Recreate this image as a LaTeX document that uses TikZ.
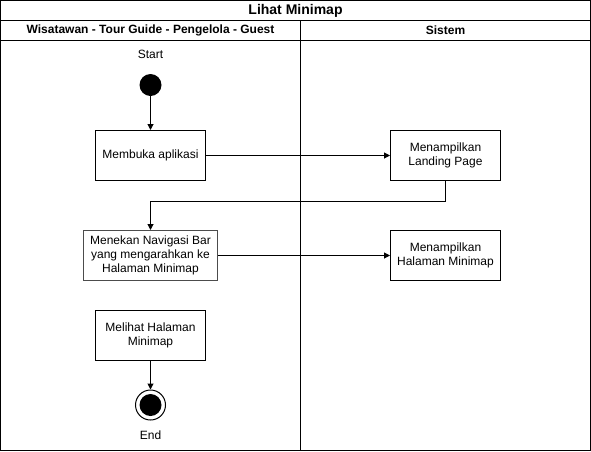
\documentclass[tikz,border=0pt]{standalone}
\usepackage{fontspec}
\setmainfont{Liberation Sans}
\usetikzlibrary{arrows.meta}
\begin{document}
\begin{tikzpicture}[x=1pt,y=-1pt,
  every node/.style={font=\fontsize{12}{14}\selectfont},
  actbox/.style={draw,line width=1pt,minimum width=110pt,minimum height=50pt,align=center,inner sep=2pt},
  flow/.style={line width=1pt,-{Triangle[length=6pt,width=6pt]}},
  lane/.style={draw,line width=1pt}]
\useasboundingbox (0,0) rectangle (591,451);
% frame and lanes
\draw[lane] (0.5,0.5) rectangle (590.5,450.5);
\draw[lane] (0.5,20.5) -- (590.5,20.5);
\draw[lane] (0.5,40.5) -- (590.5,40.5);
\draw[lane] (300.5,20.5) -- (300.5,450.5);
\node[font=\fontsize{14}{16}\selectfont\bfseries] (title) at (295.5,10.5) {Lihat Minimap};
\node[font=\fontsize{12}{14}\selectfont\bfseries] (lane1) at (150.5,30.5) {Wisatawan - Tour Guide - Pengelola - Guest};
\node[font=\fontsize{12}{14}\selectfont\bfseries] (lane2) at (445.5,30.5) {Sistem};
% nodes
\node (startlbl) at (150.5,54) {Start};
\node[circle,fill=black,minimum size=22pt,inner sep=0pt] (start) at (150.5,85) {};
\node[actbox] (b1) at (150.5,155.5) {Membuka aplikasi};
\node[actbox] (b2) at (445.5,155.5) {Menampilkan\\Landing Page};
\node[actbox,minimum width=134pt,draw=black!70] (b3) at (150.5,255.5) {Menekan Navigasi Bar\\yang mengarahkan ke\\Halaman Minimap};
\node[actbox] (b4) at (445.5,255.5) {Menampilkan\\Halaman Minimap};
\node[actbox] (b5) at (150.5,335.5) {Melihat Halaman\\Minimap};
\node[circle,draw,line width=1pt,minimum size=30pt,inner sep=0pt] (end) at (150.5,405) {};
\node[circle,fill=black,minimum size=22pt,inner sep=0pt] (endin) at (end.center) {};
\node (endlbl) at (150.5,435) {End};
% connectors
\draw[flow] (start) -- (b1);
\draw[flow] (b1) -- (b2);
\draw[flow] (b2.south) -- ++(0,20) -| (b3.north);
\draw[flow] (b3) -- (b4);
\draw[flow] (b5) -- (end);
\end{tikzpicture}
\end{document}
